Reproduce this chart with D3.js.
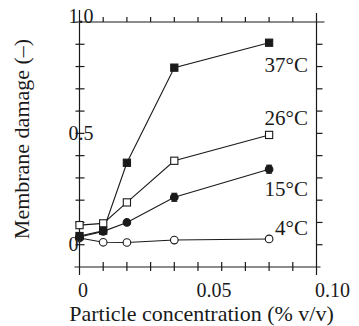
<!DOCTYPE html>
<html>
<head>
<meta charset="utf-8">
<script src="https://cdn.jsdelivr.net/npm/d3@7"></script>
<style>
  body { margin: 0; background: #fff; }
</style>
</head>
<body>
<svg id="chart" width="359" height="326" font-family="'Liberation Serif', 'DejaVu Serif', serif"></svg>
<script>
// particle concentration (% v/v)
const concentrations = [0, 0.01, 0.02, 0.04, 0.08];

// membrane damage per temperature
const damage4 = [0.030, 0.011, 0.010, 0.021, 0.026];
const damage15 = [0.035, 0.060, 0.100, 0.213, 0.339];
const damage26 = [0.088, 0.096, 0.190, 0.377, 0.493];
const damage37 = [0.039, 0.063, 0.368, 0.795, 0.907];

// error bars only visible on 15°C at the two highest points
const err15 = [0, 0, 0, 0.018, 0.018];

const xTickLabels = [0, 0.05, 0.10];
const yTickLabels = [0, 0.5, 1.0];

const series = [
  { name: '4°C', values: damage4, err: null, marker: 'circle', filled: false },
  { name: '15°C', values: damage15, err: err15, marker: 'circle', filled: true },
  { name: '26°C', values: damage26, err: null, marker: 'square', filled: false },
  { name: '37°C', values: damage37, err: null, marker: 'square', filled: true }
];

const svg = d3.select('#chart');
const ink = '#1a1a1a';
const serif = "'Liberation Serif', 'DejaVu Serif', serif";

const x = d3.scaleLinear().domain([0, 0.1]).range([79.5, 316.5]);
const y = d3.scaleLinear().domain([-0.1, 1.0]).range([267, 22]);

const x0 = x.range()[0], x1 = x.range()[1];
const yb = y.range()[0], yt = y.range()[1];

// frame lines (slightly overshooting like the original)
const frame = svg.append('g').attr('stroke', ink).attr('stroke-width', 1.2);
frame.append('line').attr('x1', x0).attr('x2', x0).attr('y1', yt - 12).attr('y2', yb + 8);
frame.append('line').attr('x1', x1).attr('x2', x1).attr('y1', yt - 9).attr('y2', yb + 8);
frame.append('line').attr('x1', x0 - 4).attr('x2', x1 + 8).attr('y1', yt).attr('y2', yt);
frame.append('line').attr('x1', x0 - 5).attr('x2', x1 + 4).attr('y1', yb).attr('y2', yb);

// ticks
const xTicks = d3.range(1, 10).map(i => i / 100);
const yTicks = d3.range(0, 10).map(i => i / 10);

frame.selectAll('.tb').data(xTicks).join('line')
  .attr('x1', d => x(d)).attr('x2', d => x(d))
  .attr('y1', yb - 5).attr('y2', yb + 4);
frame.selectAll('.tt').data(xTicks).join('line')
  .attr('x1', d => x(d)).attr('x2', d => x(d))
  .attr('y1', yt - 5).attr('y2', yt);
frame.selectAll('.tl').data(yTicks).join('line')
  .attr('x1', x0 - 4).attr('x2', x0 + 5)
  .attr('y1', d => y(d)).attr('y2', d => y(d));
frame.selectAll('.tr').data(yTicks).join('line')
  .attr('x1', x1).attr('x2', x1 + 6)
  .attr('y1', d => y(d)).attr('y2', d => y(d));

// tick labels
svg.append('g').selectAll('text').data(xTickLabels).join('text')
  .attr('x', d => x(d) - 1.5)
  .attr('y', 296.5)
  .attr('font-family', serif)
  .attr('fill', ink)
  .style('font-size', '20px')
  .text(d => d === 0 ? '0' : d.toFixed(2));

svg.append('g').selectAll('text').data(yTickLabels).join('text')
  .attr('x', 68.5)
  .attr('y', d => d === 1 ? y(d) + 0.5 : y(d) + 6.5)
  .attr('font-family', serif)
  .attr('fill', ink)
  .style('font-size', '20px')
  .text(d => d === 0 ? '0' : d.toFixed(1));

// axis titles
svg.append('text')
  .attr('transform', 'translate(28.5,139) rotate(-90)')
  .attr('text-anchor', 'middle')
  .attr('font-family', serif)
  .attr('fill', ink)
  .style('font-size', '22px')
  .text('Membrane damage (–)');

svg.append('text')
  .attr('x', 201.5).attr('y', 321)
  .attr('text-anchor', 'middle')
  .attr('font-family', serif)
  .attr('fill', ink)
  .style('font-size', '22px')
  .text('Particle concentration (% v/v)');

// lines
const line = d3.line()
  .x((d, i) => x(concentrations[i]))
  .y(d => y(d));

const plot = svg.append('g');
series.forEach(s => {
  plot.append('path')
    .attr('d', line(s.values))
    .attr('fill', 'none')
    .attr('stroke', ink)
    .attr('stroke-width', 1.1);
});

// error bars
series.filter(s => s.err).forEach(s => {
  const g = plot.append('g').attr('stroke', ink).attr('stroke-width', 1.1);
  s.values.forEach((v, i) => {
    const e = s.err[i];
    if (!e) return;
    const cx = x(concentrations[i]);
    g.append('line').attr('x1', cx).attr('x2', cx).attr('y1', y(v - e)).attr('y2', y(v + e));
    g.append('line').attr('x1', cx - 3).attr('x2', cx + 3).attr('y1', y(v - e)).attr('y2', y(v - e));
    g.append('line').attr('x1', cx - 3).attr('x2', cx + 3).attr('y1', y(v + e)).attr('y2', y(v + e));
  });
});

// markers (open first, filled on top)
const order = [series[0], series[2], series[1], series[3]];
order.forEach(s => {
  const g = plot.append('g');
  s.values.forEach((v, i) => {
    const cx = x(concentrations[i]);
    const cy = y(v);
    if (s.marker === 'circle') {
      g.append('circle')
        .attr('cx', cx).attr('cy', cy).attr('r', 3.8)
        .attr('fill', s.filled ? ink : '#fff')
        .attr('stroke', ink).attr('stroke-width', 1.1);
    } else {
      g.append('rect')
        .attr('x', cx - 3.6).attr('y', cy - 3.6)
        .attr('width', 7.2).attr('height', 7.2)
        .attr('fill', s.filled ? ink : '#fff')
        .attr('stroke', ink).attr('stroke-width', 1.1);
    }
  });
});

// temperature labels at line ends
const labelBaselines = { '37°C': 72, '26°C': 125, '15°C': 196, '4°C': 235 };
svg.append('g').selectAll('text').data(series).join('text')
  .attr('x', 308)
  .attr('y', d => labelBaselines[d.name])
  .attr('text-anchor', 'end')
  .attr('font-family', serif)
  .attr('fill', ink)
  .style('font-size', '21px')
  .text(d => d.name);
</script>
</body>
</html>
